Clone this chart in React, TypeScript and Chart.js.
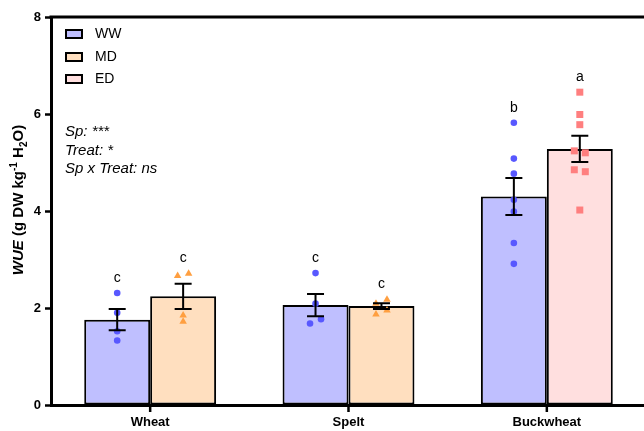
import React, { useEffect, useRef } from "react";
import { Chart, registerables } from "chart.js";

Chart.register(...registerables);

const categories = ["Wheat", "Spelt", "Buckwheat"];
const seriesNames = ["WW", "MD", "ED"];

const wwMean = [1.76, 2.06, 4.3];
const mdMean = [2.24, 2.04, null];
const edMean = [null, null, 5.28];

const wwSem = [0.22, 0.23, 0.38];
const mdSem = [0.26, 0.06, null];
const edSem = [null, null, 0.27];

const wwPoints = [
  [2.31, 1.9, 1.52, 1.33],
  [2.72, 2.09, 1.68, 1.77],
  [5.82, 5.08, 4.77, 4.23, 3.99, 3.34, 2.91],
];
const mdPoints = [
  [2.67, 2.72, 1.86, 1.73],
  [2.1, 2.18, 1.88, 1.96],
  [],
];
const edPoints = [[], [], [6.45, 5.99, 5.78, 5.24, 5.2, 4.85, 4.81, 4.02]];

const wwLetters = ["c", "c", "b"];
const mdLetters = ["c", "c", ""];
const edLetters = ["", "", "a"];

const yTicks = [0, 2, 4, 6, 8];
const statsLines = ["Sp: ***", "Treat: *", "Sp x Treat: ns"];

const fills = ["#BFBFFF", "#FFDFBF", "#FFDFDF"];
const markerColors = ["#5858FF", "#FF9F40", "#FF7F7F"];
const markerShapes = ["circle", "triangle", "square"];

const FONT = "'Liberation Sans', Arial, Helvetica, sans-serif";

const sems = [wwSem, mdSem, edSem];
const points = [wwPoints, mdPoints, edPoints];
const letters = [wwLetters, mdLetters, edLetters];

function drawMarker(ctx: CanvasRenderingContext2D, shape: string, x: number, y: number) {
  ctx.beginPath();
  if (shape === "circle") {
    ctx.arc(x, y, 3.3, 0, Math.PI * 2);
  } else if (shape === "triangle") {
    const s = 7.5;
    const h = s * 0.866;
    ctx.moveTo(x, y - h * 0.6);
    ctx.lineTo(x + s / 2, y + h * 0.4);
    ctx.lineTo(x - s / 2, y + h * 0.4);
    ctx.closePath();
  } else {
    ctx.rect(x - 3.5, y - 3.5, 7, 7);
  }
  ctx.fill();
}

const overlayPlugin = {
  id: "overlay",
  afterDatasetsDraw(chart: any) {
    const ctx: CanvasRenderingContext2D = chart.ctx;
    const yScale = chart.scales.y;
    const xScale = chart.scales.x;
    const area = chart.chartArea;
    ctx.save();

    // top frame line
    ctx.strokeStyle = "#000";
    ctx.lineWidth = 3;
    ctx.beginPath();
    ctx.moveTo(area.left - 1.5, area.top);
    ctx.lineTo(area.right + 10, area.top);
    ctx.stroke();

    // x category tick marks
    ctx.lineWidth = 2.5;
    ctx.beginPath();
    categories.forEach((_, i) => {
      const px = xScale.getPixelForValue(i);
      ctx.moveTo(px, area.bottom);
      ctx.lineTo(px, area.bottom + 7);
    });
    ctx.stroke();

    chart.data.datasets.forEach((ds: any, di: number) => {
      const meta = chart.getDatasetMeta(di);
      ds.data.forEach((v: number | null, i: number) => {
        if (v === null || v === undefined) return;
        const el = meta.data[i];
        const cx = el.x;
        // scatter points with collision spread
        const pts: number[] = points[di][i];
        const py = pts.map((p) => yScale.getPixelForValue(p));
        const order = pts.map((_, k) => k).sort((a, b) => py[a] - py[b]);
        const offs = new Array(pts.length).fill(0);
        let k = 0;
        while (k < order.length) {
          const cluster = [order[k]];
          let j = k + 1;
          while (j < order.length && py[order[j]] - py[order[j - 1]] < 5.5) {
            cluster.push(order[j]);
            j++;
          }
          cluster.sort((a, b) => a - b);
          cluster.forEach((idx, c) => {
            offs[idx] = (c - (cluster.length - 1) / 2) * 11;
          });
          k = j;
        }
        ctx.fillStyle = markerColors[di];
        pts.forEach((_, m) => drawMarker(ctx, markerShapes[di], cx + offs[m], py[m]));

        // error bars
        const s = sems[di][i];
        if (s !== null && s !== undefined) {
          const yt = yScale.getPixelForValue(v + s);
          const yb = yScale.getPixelForValue(v - s);
          ctx.strokeStyle = "#000";
          ctx.lineWidth = 2;
          ctx.beginPath();
          ctx.moveTo(cx, yt);
          ctx.lineTo(cx, yb);
          ctx.moveTo(cx - 8.5, yt);
          ctx.lineTo(cx + 8.5, yt);
          ctx.moveTo(cx - 8.5, yb);
          ctx.lineTo(cx + 8.5, yb);
          ctx.stroke();
        }

        // significance letters
        const L = letters[di][i];
        if (L) {
          const topVal = Math.max(...pts, v + (s || 0));
          const ty = yScale.getPixelForValue(topVal) - 15;
          ctx.fillStyle = "#000";
          ctx.font = `14px ${FONT}`;
          ctx.textAlign = "center";
          ctx.textBaseline = "middle";
          ctx.fillText(L, cx, ty);
        }
      });
    });

    // legend
    const ly = [34, 57, 79];
    seriesNames.forEach((name, i) => {
      ctx.fillStyle = fills[i];
      ctx.fillRect(66, ly[i] - 4, 16, 8);
      ctx.strokeStyle = "#000";
      ctx.lineWidth = 2;
      ctx.strokeRect(66, ly[i] - 4, 16, 8);
      ctx.fillStyle = "#000";
      ctx.font = `14px ${FONT}`;
      ctx.textAlign = "left";
      ctx.textBaseline = "middle";
      ctx.fillText(name, 95, ly[i] + 0.5);
    });

    // stats text
    ctx.font = `italic 15px ${FONT}`;
    ctx.textBaseline = "alphabetic";
    ctx.textAlign = "left";
    ctx.fillStyle = "#000";
    statsLines.forEach((t, i) => ctx.fillText(t, 65, 136 + i * 18.5));

    // y-axis title
    const parts: { t: string; f: string; dy: number }[] = [
      { t: "WUE", f: `italic bold 15px ${FONT}`, dy: 0 },
      { t: " (g DW kg", f: `bold 15px ${FONT}`, dy: 0 },
      { t: "-1", f: `bold 10px ${FONT}`, dy: -6.5 },
      { t: " H", f: `bold 15px ${FONT}`, dy: 0 },
      { t: "2", f: `bold 10px ${FONT}`, dy: 3.5 },
      { t: "O)", f: `bold 15px ${FONT}`, dy: 0 },
    ];
    let total = 0;
    const widths = parts.map((p) => {
      ctx.font = p.f;
      const w = ctx.measureText(p.t).width;
      total += w;
      return w;
    });
    ctx.translate(23, 200);
    ctx.rotate(-Math.PI / 2);
    let x = -total / 2;
    ctx.textBaseline = "alphabetic";
    parts.forEach((p, i) => {
      ctx.font = p.f;
      ctx.fillText(p.t, x, p.dy);
      x += widths[i];
    });
    ctx.restore();
  },
};

export default function App() {
  const ref = useRef<HTMLCanvasElement>(null);
  useEffect(() => {
    if (!ref.current) return;
    const chart = new Chart(ref.current, {
      type: "bar",
      data: {
        labels: categories,
        datasets: [wwMean, mdMean, edMean].map((d, i) => ({
          label: seriesNames[i],
          data: d as any,
          backgroundColor: fills[i],
          borderColor: "#000",
          borderWidth: 2,
          borderSkipped: false,
          skipNull: true,
          categoryPercentage: 0.665,
          barPercentage: 1,
        })),
      },
      options: {
        responsive: false,
        animation: false,
        layout: { padding: { top: 17, right: 4, left: 0, bottom: 0 } },
        plugins: { legend: { display: false }, tooltip: { enabled: false } },
        scales: {
          x: {
            grid: {
              display: false,
            },
            border: { display: true, color: "#000", width: 3 },
            ticks: {
              color: "#000",
              font: { family: FONT, size: 13, weight: "bold" },
              padding: 2,
            },
            afterFit: (s: any) => {
              s.height = 26;
            },
          },
          y: {
            min: 0,
            max: 8,
            afterBuildTicks: (s: any) => {
              s.ticks = yTicks.map((v) => ({ value: v }));
            },
            grid: {
              display: true,
              drawOnChartArea: false,
              drawTicks: true,
              tickLength: 6,
              tickColor: "#000",
              tickWidth: 2.5,
            },
            border: { display: true, color: "#000", width: 3 },
            ticks: {
              color: "#000",
              font: { family: FONT, size: 13, weight: "bold" },
              padding: 4,
            },
            afterFit: (s: any) => {
              s.width = 51;
            },
          },
        },
      },
      plugins: [overlayPlugin],
    });
    return () => chart.destroy();
  }, []);
  return (
    <div style={{ position: "fixed", left: 0, top: 0, width: 644, height: 431, overflow: "hidden", background: "#fff" }}>
      <canvas ref={ref} width={650} height={431} style={{ display: "block" }} />
    </div>
  );
}
